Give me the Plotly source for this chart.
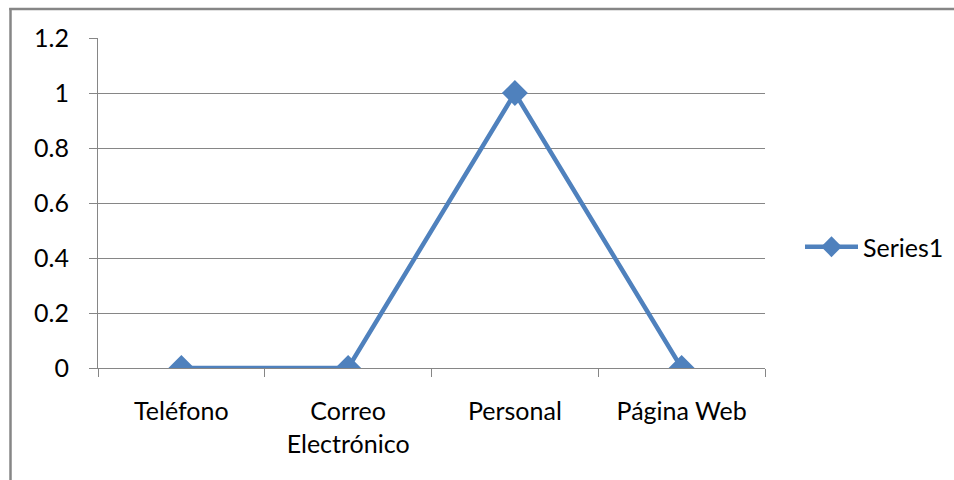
import plotly.graph_objects as go

categories = ["Teléfono", "Correo<br>Electrónico", "Personal", "Página Web"]
series1 = [0, 0, 1, 0]
y_ticks = [0, 0.2, 0.4, 0.6, 0.8, 1, 1.2]
y_tick_labels = ["0", "0.2", "0.4", "0.6", "0.8", "1", "1.2"]

W, H = 954, 480
L, T = 98, 38
R, B = W - 765, H - 368
pw, ph = W - L - R, H - T - B


def px_x(x):
    return (x - L) / pw


def px_y(y):
    return ((H - B) - y) / ph


fig = go.Figure()
fig.add_trace(go.Scatter(
    x=categories, y=series1, name="Series1", mode="lines+markers",
    line=dict(color="#4F81BD", width=4.5),
    marker=dict(symbol="diamond", size=20, color="#4F81BD"),
))

grid = "#868686"
fig.update_layout(
    width=W, height=H, autosize=False,
    margin=dict(l=L, r=R, t=T, b=B, autoexpand=False),
    paper_bgcolor="white", plot_bgcolor="white",
    font=dict(family="Lato, Calibri, sans-serif", size=25, color="#000000"),
    showlegend=True,
    legend=dict(x=px_x(800), y=px_y(247),
                xanchor="left", yanchor="middle",
                font=dict(size=25), bgcolor="rgba(0,0,0,0)", itemwidth=53),
    xaxis=dict(
        type="category", range=[-0.5, 3.5], tickson="boundaries",
        ticks="outside", ticklen=8, tickcolor=grid, tickwidth=1,
        showgrid=False, showline=True, linecolor=grid, linewidth=1,
        zeroline=False, ticklabelstandoff=21,
    ),
    yaxis=dict(
        range=[0, 1.2], tickvals=y_ticks, ticktext=y_tick_labels,
        ticks="outside", ticklen=8, tickcolor=grid, tickwidth=1,
        showgrid=True, gridcolor=grid, gridwidth=1,
        showline=True, linecolor=grid, linewidth=1, zeroline=False,
        ticklabelstandoff=15,
    ),
    shapes=[
        dict(type="line", xref="paper", yref="paper",
             x0=px_x(10.5), x1=px_x(10.5), y0=px_y(H + 10), y1=px_y(8),
             line=dict(color=grid, width=2.5), layer="below"),
        dict(type="line", xref="paper", yref="paper",
             x0=px_x(9.25), x1=px_x(W + 10), y0=px_y(9), y1=px_y(9),
             line=dict(color=grid, width=2.5), layer="below"),
    ],
)

fig.write_html(
    "out.html",
    config={"responsive": False, "displayModeBar": False},
    post_script=(
        "document.documentElement.style.overflow='hidden';"
        "document.body.style.margin='0';document.body.style.overflow='hidden';"
    ),
)
